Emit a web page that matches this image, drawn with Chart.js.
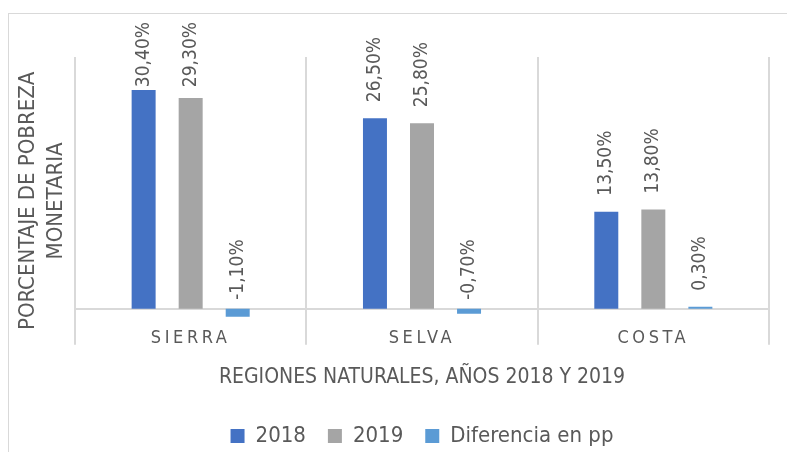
<!DOCTYPE html>
<html><head><meta charset="utf-8">
<script src="https://cdn.jsdelivr.net/npm/chart.js@4.4.1/dist/chart.umd.min.js"></script>
<style>
html,body{margin:0;padding:0;background:#fff;overflow:hidden;width:787px;height:452px;}
#frame{position:absolute;left:8px;top:13px;width:820px;height:480px;border:1px solid #d9d9d9;box-sizing:border-box;}
#wrap{position:absolute;left:0;top:0;width:787px;height:452px;}
</style></head><body>
<div id="frame"></div>
<div id="wrap"><canvas id="c" width="787" height="452"></canvas></div>
<script>
const categories = ['SIERRA', 'SELVA', 'COSTA'];
const values2018 = [30.4, 26.5, 13.5];
const values2019 = [29.3, 25.8, 13.8];
const valuesDiff = [-1.1, -0.7, 0.3];
const seriesNames = ['2018', '2019', 'Diferencia en pp'];
const seriesColors = ['#4472C4', '#A5A5A5', '#5B9BD5'];
const yTitleLines = ['PORCENTAJE DE POBREZA', 'MONETARIA'];
const xTitle = 'REGIONES NATURALES, AÑOS 2018 Y 2019';

const FONT = "'Liberation Sans Narrow', 'DejaVu Sans Condensed', sans-serif";
const TXT = '#595959';

function fmt(v) { return v.toFixed(2).replace('.', ',') + '%'; }

const labelPlugin = {
  id: 'barLabels',
  afterDatasetsDraw(chart) {
    const ctx = chart.ctx;
    const y0 = chart.scales.y.getPixelForValue(0);
    ctx.save();
    ctx.font = '19px ' + FONT;
    ctx.fillStyle = TXT;
    ctx.textAlign = 'left';
    ctx.textBaseline = 'middle';
    chart.data.datasets.forEach((ds, i) => {
      const meta = chart.getDatasetMeta(i);
      meta.data.forEach((bar, j) => {
        const v = ds.data[j];
        const txt = fmt(v);
        const w = ctx.measureText(txt).width;
        let bottom = v >= 0 ? bar.y - 16 : y0 - 9;
        if (bottom - w < 22) bottom = 22 + w;
        ctx.save();
        ctx.translate(bar.x, bottom);
        ctx.rotate(-Math.PI / 2);
        ctx.fillText(txt, 0, 0);
        ctx.restore();
      });
    });
    ctx.restore();
  }
};

const spacingPlugin = {
  id: 'tickSpacing',
  beforeDraw(chart) {
    const s = chart.scales.x;
    if (s && !s.__patched) {
      const orig = s.drawLabels;
      s.drawLabels = function (area) {
        this.ctx.save();
        this.ctx.letterSpacing = '3.6px';
        orig.call(this, area);
        this.ctx.restore();
      };
      s.__patched = true;
    }
  }
};

new Chart(document.getElementById('c'), {
  type: 'bar',
  data: {
    labels: categories,
    datasets: [
      { label: seriesNames[0], data: values2018, backgroundColor: seriesColors[0] },
      { label: seriesNames[1], data: values2019, backgroundColor: seriesColors[1] },
      { label: seriesNames[2], data: valuesDiff, backgroundColor: seriesColors[2] }
    ]
  },
  options: {
    responsive: false,
    animation: false,
    devicePixelRatio: 1,
    datasets: { bar: { categoryPercentage: 0.61, barPercentage: 0.51 } },
    layout: { padding: { left: 8, right: 18, top: 57, bottom: -5 } },
    scales: {
      x: {
        type: 'category',
        position: { y: 0 },
        offset: true,
        grid: { offset: true, drawTicks: false, color: '#d9d9d9', lineWidth: 2 },
        border: { display: true, color: '#d9d9d9', width: 2 },
        ticks: { color: TXT, font: { family: FONT, size: 18 }, padding: 19, maxRotation: 0, autoSkip: false }
      },
      y: {
        min: -5, max: 35,
        ticks: { display: false },
        grid: { display: false, drawTicks: false },
        border: { display: false },
        title: {
          display: true, text: yTitleLines, color: TXT,
          font: { family: FONT, size: 22, lineHeight: 28 / 22 },
          padding: { top: 6.5, bottom: 4.5 }
        }
      }
    },
    plugins: {
      legend: {
        position: 'bottom', fullSize: false,
        labels: { boxWidth: 14, boxHeight: 14, padding: 22, color: TXT, font: { family: FONT, size: 22 } }
      },
      title: {
        display: true, position: 'bottom', fullSize: false, weight: 500,
        text: xTitle, color: TXT,
        font: { family: FONT, size: 21, weight: 'normal', lineHeight: 1.2 },
        padding: { top: 20, bottom: 13 }
      },
      tooltip: { enabled: false }
    }
  },
  plugins: [labelPlugin, spacingPlugin]
});
</script>
</body></html>
